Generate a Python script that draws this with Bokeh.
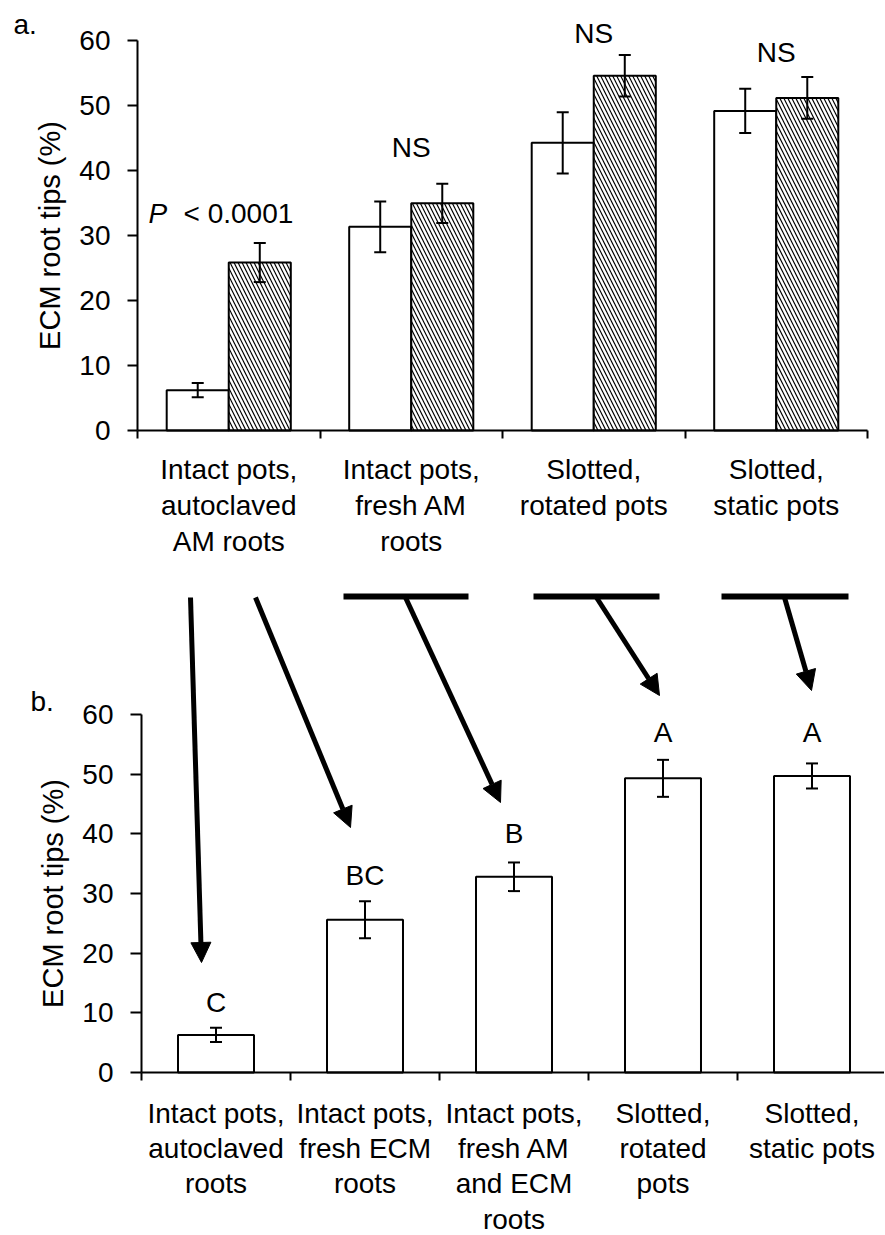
from bokeh.plotting import figure
from bokeh.models import (Range1d, LinearAxis, FixedTicker, ColumnDataSource,
                          Whisker, TeeHead, Arrow, NormalHead)
from bokeh.core.properties import value
from bokeh.embed import file_html
from bokeh.resources import INLINE

# ---------------- data ----------------
y_ticks = [0, 10, 20, 30, 40, 50, 60]
y_title = "ECM root tips (%)"

top_categories = [
    "Intact pots,\nautoclaved\nAM roots",
    "Intact pots,\nfresh AM\nroots",
    "Slotted,\nrotated pots",
    "Slotted,\nstatic pots",
]
top_open_mean = [6.2, 31.3, 44.2, 49.1]
top_open_se = [1.1, 3.9, 4.7, 3.4]
top_hatched_mean = [25.8, 34.9, 54.5, 51.1]
top_hatched_se = [3.0, 3.0, 3.2, 3.2]
top_notes = ["NS", "NS", "NS"]          # categories 2-4
p_symbol = "P"
p_value_text = "< 0.0001"

bottom_categories = [
    "Intact pots,\nautoclaved\nroots",
    "Intact pots,\nfresh ECM\nroots",
    "Intact pots,\nfresh AM\nand ECM\nroots",
    "Slotted,\nrotated\npots",
    "Slotted,\nstatic pots",
]
bottom_mean = [6.3, 25.6, 32.8, 49.3, 49.7]
bottom_se = [1.2, 3.1, 2.4, 3.1, 2.1]
bottom_letters = ["C", "BC", "B", "A", "A"]

# ---------------- layout ----------------
W, H = 884, 1234
M = 0                      # Bokeh's page template has no body margin
FONT_NAME = "Liberation Sans"
FONT = value(FONT_NAME)
FS = "28px"

TOP = dict(x0=137.0, cw=182.5, y0=430.0, y60=39.5)
BOT = dict(x0=141.0, cw=149.0, y0=1072.0, y60=714.0)


def ppu(g):
    return (g["y0"] - g["y60"]) / 60.0


def make_ranges(g):
    k = ppu(g)
    xr = Range1d((M - g["x0"]) / g["cw"], (M + W - g["x0"]) / g["cw"])
    yr = Range1d(-(M + H - g["y0"]) / k, (g["y0"] - M) / k)
    return xr, yr


def tx(px, g=TOP):
    return (px - g["x0"]) / g["cw"]


def ty(py, g=TOP):
    return (g["y0"] - py) / ppu(g)


ns_y = [43.5, 61.0, 58.1]
letter_y = [11.7, 33.0, 40.1, 57.0, 57.0]
top_half_gap = 0.17
top_bar_w = 0.34
bot_bar_w = 0.51

xr, yr = make_ranges(TOP)
bxr, byr = make_ranges(BOT)

p = figure(width=W, height=H, x_range=xr, y_range=yr,
           x_axis_type=None, y_axis_type=None,
           toolbar_location=None, output_backend="svg",
           min_border=0, outline_line_color=None)
p.extra_x_ranges = {"bx": bxr}
p.extra_y_ranges = {"by": byr}
p.background_fill_color = "white"
p.border_fill_color = "white"


def add_axes(labels, tick_len, line_h, standoff, **names):
    n = len(labels)
    ya = LinearAxis(fixed_location=0, bounds=(0, 60),
                    ticker=FixedTicker(ticks=y_ticks, minor_ticks=[]),
                    axis_label=y_title, **names)
    ya.axis_line_color = "black"
    ya.axis_line_width = 2
    ya.major_tick_line_color = "black"
    ya.major_tick_line_width = 2
    ya.major_tick_out = tick_len
    ya.major_tick_in = 0
    ya.minor_tick_out = 0
    ya.minor_tick_in = 0
    ya.major_label_text_font = FONT_NAME
    ya.major_label_text_font_size = FS
    ya.major_label_text_color = "black"
    ya.major_label_standoff = 17
    ya.axis_label_text_font = FONT_NAME
    ya.axis_label_text_font_size = "29px"
    ya.axis_label_text_font_style = "normal"
    ya.axis_label_text_color = "black"
    ya.axis_label_standoff = 10
    p.add_layout(ya, "left")

    xa = LinearAxis(fixed_location=0, bounds=(0, n),
                    ticker=FixedTicker(ticks=[i + 0.5 for i in range(n)],
                                       minor_ticks=list(range(n + 1))),
                    major_label_overrides={i + 0.5: lab for i, lab in enumerate(labels)},
                    **names)
    xa.axis_line_color = "black"
    xa.axis_line_width = 2
    xa.major_tick_out = 0
    xa.major_tick_in = 0
    xa.minor_tick_out = 8
    xa.minor_tick_in = 0
    xa.minor_tick_line_color = "black"
    xa.minor_tick_line_width = 2
    xa.major_label_text_font = FONT_NAME
    xa.major_label_text_font_size = FS
    xa.major_label_text_color = "black"
    xa.major_label_text_line_height = line_h
    xa.major_label_standoff = standoff
    p.add_layout(xa, "below")


add_axes(top_categories, 10, 1.17, 15)
add_axes(bottom_categories, 11, 1.14, 17, x_range_name="bx", y_range_name="by")

# ---------------- panel a ----------------
n_top = len(top_categories)
top_src = ColumnDataSource(dict(
    x_open=[i + 0.5 - top_half_gap for i in range(n_top)],
    x_hatch=[i + 0.5 + top_half_gap for i in range(n_top)],
    open_mean=top_open_mean,
    open_up=[m + e for m, e in zip(top_open_mean, top_open_se)],
    open_lo=[m - e for m, e in zip(top_open_mean, top_open_se)],
    hatch_mean=top_hatched_mean,
    hatch_up=[m + e for m, e in zip(top_hatched_mean, top_hatched_se)],
    hatch_lo=[m - e for m, e in zip(top_hatched_mean, top_hatched_se)],
))
p.vbar(x="x_open", top="open_mean", bottom=0, width=top_bar_w, source=top_src,
       fill_color="white", line_color="black", line_width=2)
p.vbar(x="x_hatch", top="hatch_mean", bottom=0, width=top_bar_w, source=top_src,
       fill_color="white", line_color="black", line_width=2,
       hatch_pattern="\\", hatch_color="black", hatch_scale=8, hatch_weight=1.2)


def whisker(src, base, up, lo, **names):
    w = Whisker(source=src, base=base, upper=up, lower=lo, level="overlay",
                line_color="black", line_width=2,
                upper_head=TeeHead(size=12, line_color="black", line_width=2),
                lower_head=TeeHead(size=12, line_color="black", line_width=2),
                **names)
    p.add_layout(w)


whisker(top_src, "x_open", "open_up", "open_lo")
whisker(top_src, "x_hatch", "hatch_up", "hatch_lo")

txt = dict(text_font=FONT, text_font_size=FS, text_color="black",
           text_baseline="middle")
p.text(x=[i + 1.5 for i in range(len(top_notes))], y=ns_y, text=top_notes,
       text_align="center", **txt)
p.text(x=[tx(148)], y=[ty(213)], text=[p_symbol], text_align="left",
       text_font_style="italic", **txt)
p.text(x=[tx(183)], y=[ty(213)], text=[p_value_text], text_align="left", **txt)
p.text(x=[tx(13)], y=[ty(24)], text=["a."], text_align="left", **txt)

# ---------------- panel b ----------------
n_bot = len(bottom_categories)
bot_src = ColumnDataSource(dict(
    x=[i + 0.5 for i in range(n_bot)],
    mean=bottom_mean,
    up=[m + e for m, e in zip(bottom_mean, bottom_se)],
    lo=[m - e for m, e in zip(bottom_mean, bottom_se)],
    letter=bottom_letters,
    ly=letter_y,
))
p.vbar(x="x", top="mean", bottom=0, width=bot_bar_w, source=bot_src,
       fill_color="white", line_color="black", line_width=2,
       x_range_name="bx", y_range_name="by")
whisker(bot_src, "x", "up", "lo", x_range_name="bx", y_range_name="by")
p.text(x="x", y="ly", text="letter", source=bot_src, text_align="center",
       x_range_name="bx", y_range_name="by", **txt)
p.text(x=[tx(30, BOT)], y=[ty(701, BOT)], text=["b."], text_align="left",
       x_range_name="bx", y_range_name="by", **txt)

# ---------------- connectors between panels ----------------
bar_px = [(343, 468), (533, 659), (721, 848)]
bar_y = 596
p.segment(x0=[tx(a) for a, b in bar_px], x1=[tx(b) for a, b in bar_px],
          y0=[ty(bar_y)] * 3, y1=[ty(bar_y)] * 3,
          line_color="black", line_width=6, line_cap="butt")

arrow_px = [((190, 597), (201, 962)),
            ((255, 597), (350, 827)),
            ((405, 597), (500, 802)),
            ((596, 597), (659, 695)),
            ((784, 597), (811, 690))]
for (sx, sy), (ex, ey) in arrow_px:
    p.add_layout(Arrow(x_start=tx(sx), y_start=ty(sy), x_end=tx(ex), y_end=ty(ey),
                       line_color="black", line_width=5,
                       end=NormalHead(size=20, fill_color="black",
                                      line_color="black", line_width=1)))

open("out.html", "w").write(file_html(p, INLINE))
